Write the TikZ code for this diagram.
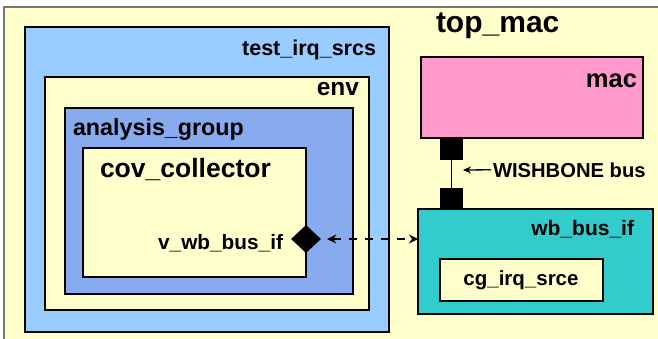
\documentclass[tikz,border=0pt]{standalone}
\usepackage{fontspec}
\setmainfont{Liberation Sans}
\usetikzlibrary{shapes.geometric,arrows.meta}
\definecolor{paleyellow}{HTML}{FFFFCC}
\definecolor{skyblue}{HTML}{99CCFF}
\definecolor{periwinkle}{HTML}{88AAEE}
\definecolor{tealfill}{HTML}{33CCCC}
\definecolor{pinkfill}{HTML}{FF99CC}
\definecolor{framegray}{HTML}{777777}
\newcommand{\lbl}[1]{\fontsize{#1}{#1}\selectfont\bfseries}
\tikzset{
  block/.style={draw=black, line width=1.5pt, anchor=north west, inner sep=0pt, outer sep=0pt},
  portbox/.style={fill=black, draw=black, line width=0.5pt, anchor=north west, inner sep=0pt, outer sep=0pt, minimum width=22pt, minimum height=20pt},
  caption/.style={inner sep=0pt, outer sep=0pt, text=black},
}
\begin{document}
\begin{tikzpicture}[x=1pt, y=-1pt]
\useasboundingbox (0,0) rectangle (658,338);
\fill[white] (0,0) rectangle (658,338);
% enclosing top level
\node[draw=framegray, line width=1.2pt, fill=paleyellow, anchor=north west, inner sep=0pt, outer sep=0pt,
      minimum width=670pt, minimum height=345pt] (topmac) at (4,7) {};
% testbench hierarchy
\node[block, fill=skyblue, minimum width=364pt, minimum height=305pt] (tirq) at (25,27) {};
\node[block, fill=paleyellow, minimum width=324pt, minimum height=233pt] (env) at (45,77) {};
\node[block, fill=periwinkle, minimum width=288pt, minimum height=186pt] (ag) at (65,108) {};
\node[block, fill=paleyellow, minimum width=223pt, minimum height=129pt] (cov) at (83,148) {};
% design side
\node[block, fill=pinkfill, minimum width=222pt, minimum height=81pt] (mac) at (421,57) {};
\node[block, fill=tealfill, minimum width=235pt, minimum height=105pt] (wbif) at (418,209) {};
\node[block, fill=paleyellow, minimum width=163pt, minimum height=42pt] (cg) at (440,259) {};
% bus ports
\node[portbox] (portA) at (440,139) {};
\node[portbox] (portB) at (440,188) {};
\draw[line width=0.8pt] (portA.south) -- (portB.north);
% virtual interface handle
\node[diamond, fill=black, inner sep=0pt, minimum width=30pt, minimum height=28pt] (vif) at (306,239) {};
% labels
\node[caption, anchor=base west] (tTopmac) at (436,32) {\lbl{30}top\_mac};
\node[caption, anchor=base east] (tTirq) at (376,55) {\lbl{21.5}test\_irq\_srcs};
\node[caption, anchor=base east] (tEnv) at (359,95) {\lbl{24.5}env};
\node[caption, anchor=base west] (tAg) at (73,135) {\lbl{23.3}analysis\_group};
\node[caption, anchor=base west] (tCov) at (100,177) {\lbl{26.5}cov\_collector};
\node[caption, anchor=base east] (tVif) at (283,249) {\lbl{20.8}v\_wb\_bus\_if};
\node[caption, anchor=base east] (tMac) at (637,87) {\lbl{25.5}mac};
\node[caption, anchor=base east] (tWbif) at (634,235) {\lbl{21}wb\_bus\_if};
\node[caption, anchor=base] (tCg) at (521,285) {\lbl{20.5}cg\_irq\_srce};
\node[caption, anchor=base west] (tBus) at (493,177) {\lbl{20.2}WISHBONE bus};
% bus annotation arrow
\coordinate (busTip) at (463,170);
\draw[line width=1.3pt, -{Stealth[length=8pt,width=7pt]}] (tBus.west) ++(-2pt,0) -- (busTip);
% handle link between virtual interface and bus interface
\draw[line width=2.5pt, dash pattern=on 8pt off 8pt,
      {Stealth[length=9pt,width=9pt]}-{Stealth[length=9pt,width=9pt]}, shorten <=6pt]
  (vif.east) -- (vif.east -| wbif.west);
\end{tikzpicture}
\end{document}
